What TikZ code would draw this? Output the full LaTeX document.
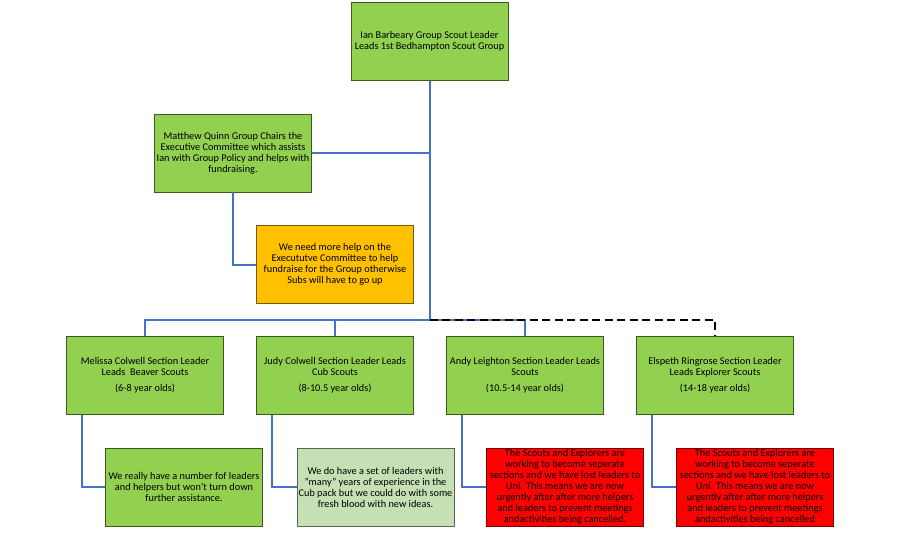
\documentclass[tikz,border=0pt]{standalone}
\usepackage{fontspec}
\setmainfont{Carlito}
\usepackage{tikz}
\usetikzlibrary{backgrounds,shapes}
\definecolor{leafgreen}{RGB}{146,208,80}
\definecolor{palegreen}{RGB}{197,224,180}
\definecolor{amber}{RGB}{255,192,0}
\definecolor{alarm}{RGB}{255,0,0}
\definecolor{linkblue}{RGB}{68,114,196}
\tikzstyle{box}=[rectangle,draw={rgb,255:red,62;green,88;blue,34},fill=leafgreen,
  minimum width=157pt,minimum height=78pt,inner sep=1pt,align=center,
  font=\fontsize{10.3}{11}\selectfont,text=black]
\tikzstyle{amberbox}=[box,fill=amber,draw={rgb,255:red,120;green,90;blue,0}]
\tikzstyle{palebox}=[box,fill=palegreen,draw={rgb,255:red,90;green,100;blue,80}]
\tikzstyle{alarmbox}=[box,fill=alarm,draw={rgb,255:red,120;green,0;blue,0}]
\tikzstyle{link}=[draw=linkblue,line width=2pt]
\tikzstyle{dashlink}=[draw=black,line width=2pt,dash pattern=on 8pt off 4.5pt]

\begin{document}
\begin{tikzpicture}[x=1pt,y=-1pt]%[show background grid]
\useasboundingbox (0,0) rectangle (900,535);

% group leader and committee
\path (429.5,41.5) node[box] (top) {Ian Barbeary Group Scout Leader\\Leads 1st Bedhampton Scout Group};
\path (233,153) node[box] (matt) {Matthew Quinn Group Chairs the\\Executive Committee which assists\\Ian with Group Policy and helps with\\fundraising.};
\path (335,264.5) node[amberbox] (subs) {We need more help on the\\Execututve Committee to help\\fundraise for the Group otherwise\\Subs will have to go up};

% section leaders
\path (145,375.5) node[box] (beaver) {Melissa Colwell Section Leader\\Leads\ \ Beaver Scouts\\[5pt](6-8 year olds)};
\path (335,375.5) node[box] (cub) {Judy Colwell Section Leader Leads\\Cub Scouts\\[5pt](8-10.5 year olds)};
\path (525,375.5) node[box] (scout) {Andy Leighton Section Leader Leads\\Scouts\\[5pt](10.5-14 year olds)};
\path (715,375.5) node[box] (explorer) {Elspeth Ringrose Section Leader\\Leads Explorer Scouts\\[5pt](14-18 year olds)};

% notes
\path (184,487) node[box] (beavernote) {We really have a number fof leaders\\and helpers but won't turn down\\further assistance.};
\path (375.5,487) node[palebox] (cubnote) {We do have a set of leaders with\\"many" years of experience in the\\Cub pack but we could do with some\\fresh blood with new ideas.};
\path (565,487) node[alarmbox] (scoutnote) {The Scouts and Explorers are\\working to become seperate\\sections and we have lost leaders to\\Uni. This means we are now\\urgently after after more helpers\\and leaders to prevent meetings\\andactivities being cancelled.};
\path (755,487) node[alarmbox] (explorernote) {The Scouts and Explorers are\\working to become seperate\\sections and we have lost leaders to\\Uni. This means we are now\\urgently after after more helpers\\and leaders to prevent meetings\\andactivities being cancelled};

\coordinate (hub) at (429.5,320);

\draw[link] (top.south) -- (hub);
\draw[link] (matt.east) -- (matt.east -| hub);
\draw[link] (matt.south) |- (subs.west);
\draw[link] (beaver.north) -- (beaver.north |- hub) -- (scout.north |- hub) -- (scout.north);
\draw[link] (cub.north) -- (cub.north |- hub);
\draw[dashlink] (hub) -| (explorer.north);
%\draw[thick,dashed] (hub) -- (scout.north |- hub);

\draw[link] ([xshift=16pt]beaver.south west) |- (beavernote.west);
\draw[link] ([xshift=16pt]cub.south west) |- (cubnote.west);
\draw[link] ([xshift=16pt]scout.south west) |- (scoutnote.west);
\draw[link] ([xshift=16pt]explorer.south west) |- (explorernote.west);

\end{tikzpicture}
\end{document}
